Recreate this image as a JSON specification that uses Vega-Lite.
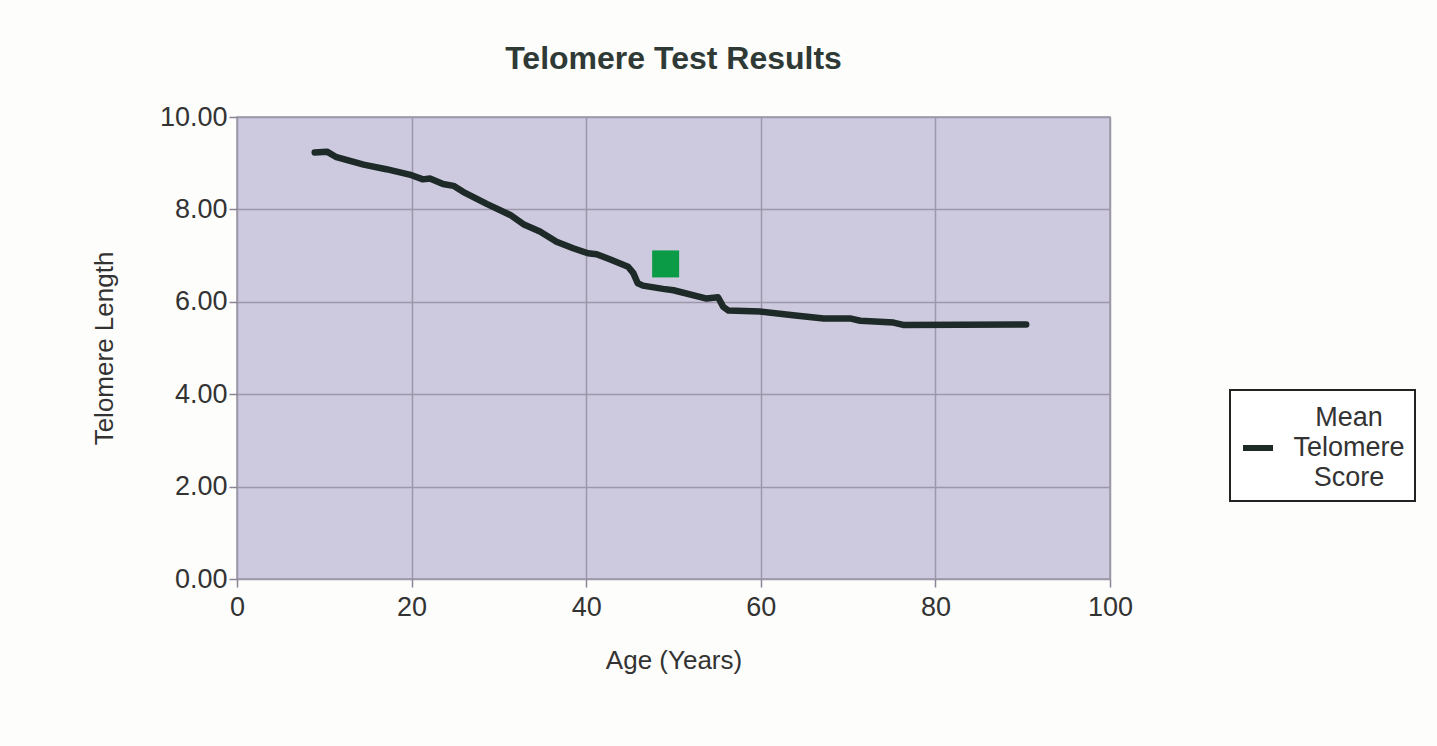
{
  "$schema": "https://vega.github.io/schema/vega-lite/v6.json",
  "autosize": "none",
  "width": 873,
  "height": 462,
  "padding": {"left": 237, "top": 117, "right": 327, "bottom": 167},
  "background": "#fdfdfb",
  "title": {
    "text": "Telomere Test Results",
    "font": "Liberation Sans",
    "fontSize": 32,
    "fontWeight": "bold",
    "color": "#2f3a36",
    "anchor": "middle",
    "offset": 27
  },
  "config": {
    "font": "Liberation Sans",
    "view": {"fill": "#cdcae0", "stroke": "#9a94a6", "strokeWidth": 1.5},
    "axis": {
      "gridColor": "#9d97a9",
      "gridWidth": 1.5,
      "gridOpacity": 1,
      "tickColor": "#8a8494",
      "tickSize": 8,
      "tickWidth": 1.5,
      "domain": false,
      "labelFont": "Liberation Sans",
      "labelFontSize": 27,
      "labelColor": "#333333",
      "labelFlush": false,
      "titleFont": "Liberation Sans",
      "titleFontSize": 26,
      "titleFontWeight": "normal",
      "titleColor": "#333333"
    }
  },
  "datasets": {
    "mean": [
      {"age": 8.9, "len": 9.23, "series": "Mean Telomere Score"},
      {"age": 10.3, "len": 9.25, "series": "Mean Telomere Score"},
      {"age": 11.4, "len": 9.13, "series": "Mean Telomere Score"},
      {"age": 14.5, "len": 8.97, "series": "Mean Telomere Score"},
      {"age": 17.1, "len": 8.87, "series": "Mean Telomere Score"},
      {"age": 20.0, "len": 8.74, "series": "Mean Telomere Score"},
      {"age": 21.3, "len": 8.65, "series": "Mean Telomere Score"},
      {"age": 22.1, "len": 8.67, "series": "Mean Telomere Score"},
      {"age": 23.6, "len": 8.55, "series": "Mean Telomere Score"},
      {"age": 24.8, "len": 8.51, "series": "Mean Telomere Score"},
      {"age": 25.9, "len": 8.38, "series": "Mean Telomere Score"},
      {"age": 28.6, "len": 8.12, "series": "Mean Telomere Score"},
      {"age": 31.3, "len": 7.88, "series": "Mean Telomere Score"},
      {"age": 32.8, "len": 7.68, "series": "Mean Telomere Score"},
      {"age": 34.7, "len": 7.52, "series": "Mean Telomere Score"},
      {"age": 36.6, "len": 7.30, "series": "Mean Telomere Score"},
      {"age": 38.5, "len": 7.16, "series": "Mean Telomere Score"},
      {"age": 40.2, "len": 7.05, "series": "Mean Telomere Score"},
      {"age": 41.2, "len": 7.03, "series": "Mean Telomere Score"},
      {"age": 42.7, "len": 6.92, "series": "Mean Telomere Score"},
      {"age": 44.8, "len": 6.76, "series": "Mean Telomere Score"},
      {"age": 45.4, "len": 6.62, "series": "Mean Telomere Score"},
      {"age": 45.9, "len": 6.40, "series": "Mean Telomere Score"},
      {"age": 46.5, "len": 6.35, "series": "Mean Telomere Score"},
      {"age": 48.8, "len": 6.28, "series": "Mean Telomere Score"},
      {"age": 50.0, "len": 6.25, "series": "Mean Telomere Score"},
      {"age": 53.8, "len": 6.07, "series": "Mean Telomere Score"},
      {"age": 55.1, "len": 6.10, "series": "Mean Telomere Score"},
      {"age": 55.7, "len": 5.89, "series": "Mean Telomere Score"},
      {"age": 56.3, "len": 5.81, "series": "Mean Telomere Score"},
      {"age": 59.9, "len": 5.79, "series": "Mean Telomere Score"},
      {"age": 63.7, "len": 5.71, "series": "Mean Telomere Score"},
      {"age": 67.2, "len": 5.64, "series": "Mean Telomere Score"},
      {"age": 70.2, "len": 5.64, "series": "Mean Telomere Score"},
      {"age": 71.4, "len": 5.59, "series": "Mean Telomere Score"},
      {"age": 75.2, "len": 5.55, "series": "Mean Telomere Score"},
      {"age": 76.3, "len": 5.50, "series": "Mean Telomere Score"},
      {"age": 90.4, "len": 5.51, "series": "Mean Telomere Score"}
    ],
    "result": [
      {"age": 49.1, "len": 6.82}
    ]
  },
  "layer": [
    {
      "data": {"name": "mean"},
      "mark": {"type": "line", "strokeWidth": 6.5, "strokeCap": "round", "strokeJoin": "round"},
      "encoding": {
        "x": {
          "field": "age", "type": "quantitative",
          "scale": {"domain": [0, 100], "nice": false},
          "axis": {"values": [0, 20, 40, 60, 80, 100], "title": "Age (Years)", "titlePadding": 27, "labelPadding": 7}
        },
        "y": {
          "field": "len", "type": "quantitative",
          "scale": {"domain": [0, 10], "nice": false},
          "axis": {"values": [0, 2, 4, 6, 8, 10], "format": ".2f", "title": "Telomere Length", "titlePadding": 42, "labelPadding": 2}
        },
        "color": {
          "field": "series", "type": "nominal",
          "scale": {"range": ["#1e2a27"]},
          "legend": {
            "title": null,
            "orient": "none",
            "legendX": 993,
            "legendY": 273,
            "direction": "vertical",
            "strokeColor": "#222222",
            "fillColor": "#ffffff",
            "padding": 10,
            "symbolType": "stroke",
            "symbolStrokeWidth": 6,
            "symbolSize": 900,
            "labelExpr": "['Mean', 'Telomere', 'Score']",
            "labelFont": "Liberation Sans",
            "labelFontSize": 27,
            "labelColor": "#333333",
            "labelAlign": "center",
            "labelOffset": 73,
            "labelLimit": 300,
            "encode": {
              "legend": {"update": {"strokeWidth": {"value": 2}}},
              "labels": {"update": {"lineHeight": {"value": 30}}},
              "symbols": {"update": {"y": {"value": 48}}}
            }
          }
        }
      }
    },
    {
      "data": {"name": "result"},
      "mark": {"type": "square", "size": 729, "filled": true, "color": "#0b9a45", "opacity": 1},
      "encoding": {
        "x": {"field": "age", "type": "quantitative"},
        "y": {"field": "len", "type": "quantitative"}
      }
    }
  ]
}
